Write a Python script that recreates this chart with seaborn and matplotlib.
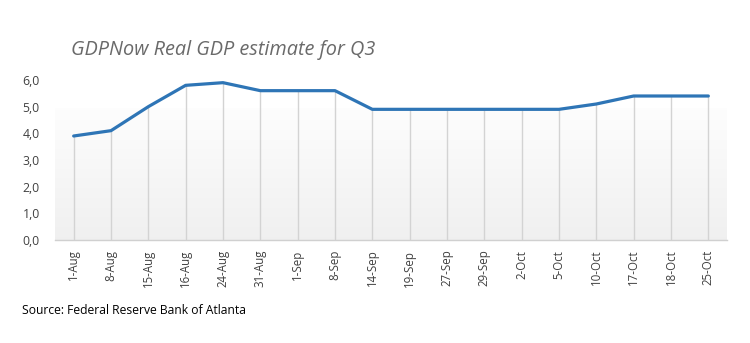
import numpy as np
import pandas as pd
import matplotlib
matplotlib.use("Agg")
import matplotlib.pyplot as plt
import seaborn as sns

dates = ["1-Aug", "8-Aug", "15-Aug", "16-Aug", "24-Aug", "31-Aug", "1-Sep", "8-Sep",
         "14-Sep", "19-Sep", "27-Sep", "29-Sep", "2-Oct", "5-Oct", "10-Oct", "17-Oct",
         "18-Oct", "25-Oct"]
gdp = [3.9, 4.1, 5.0, 5.8, 5.9, 5.6, 5.6, 5.6, 4.9, 4.9, 4.9, 4.9, 4.9, 4.9, 5.1, 5.4, 5.4, 5.4]
yticks = [0.0, 1.0, 2.0, 3.0, 4.0, 5.0, 6.0]

sns.set_theme(style="white")
plt.rcParams["font.family"] = ["Open Sans", "DejaVu Sans"]

df = pd.DataFrame({"date": dates, "gdp": gdp})
df["pos"] = np.arange(len(dates))

top, bottom = 80, 240
fig = plt.figure(figsize=(7.5, 3.43), dpi=100)
ax = fig.add_axes([55 / 750, 1 - bottom / 343, (727 - 55) / 750, (bottom - top) / 343])

# gradient plot-area background (lower part only, as in the reference)
grad = np.linspace(0.993, 0.94, 256).reshape(-1, 1)
ax.imshow(np.dstack([grad, grad, grad]), extent=[0, 1, 0, (bottom - 108) / (bottom - top)],
          transform=ax.transAxes, aspect="auto", zorder=0, interpolation="bilinear")

# drop lines from each point to the axis
ax.vlines(df["pos"], 0, df["gdp"], color="#d3d3d3", linewidth=1.0, zorder=1)

sns.lineplot(data=df, x="pos", y="gdp", ax=ax, color="#2e75b6", linewidth=2.3, zorder=3)

n = len(dates)
ax.set_xlim(-0.5, n - 0.5)
ax.set_ylim(0, 6)
ax.set_xticks(df["pos"])
ax.set_xticklabels(dates, rotation=90, fontsize=8.3, color="#404040")
ax.set_yticks(yticks)
ax.set_yticklabels([f"{v:.1f}".replace(".", ",") for v in yticks], fontsize=8.8, color="#404040")
for s in ["top", "right", "left"]:
    ax.spines[s].set_visible(False)
ax.spines["bottom"].set_color("#d0d0d0")
ax.spines["bottom"].set_linewidth(1)
ax.tick_params(axis="x", length=0, pad=7)
ax.tick_params(axis="y", length=0, pad=11)
ax.set_xlabel("")
ax.set_ylabel("")

fig.text(71 / 750, 1 - 50 / 343, "GDPNow Real GDP estimate for Q3", fontsize=14.3,
         style="italic", color="#6a6a6a", va="center", ha="left")
fig.text(22 / 750, 1 - 310 / 343, "Source: Federal Reserve Bank of Atlanta", fontsize=8.7,
         color="#000000", va="center", ha="left")

fig.savefig("out.png", dpi=100)
